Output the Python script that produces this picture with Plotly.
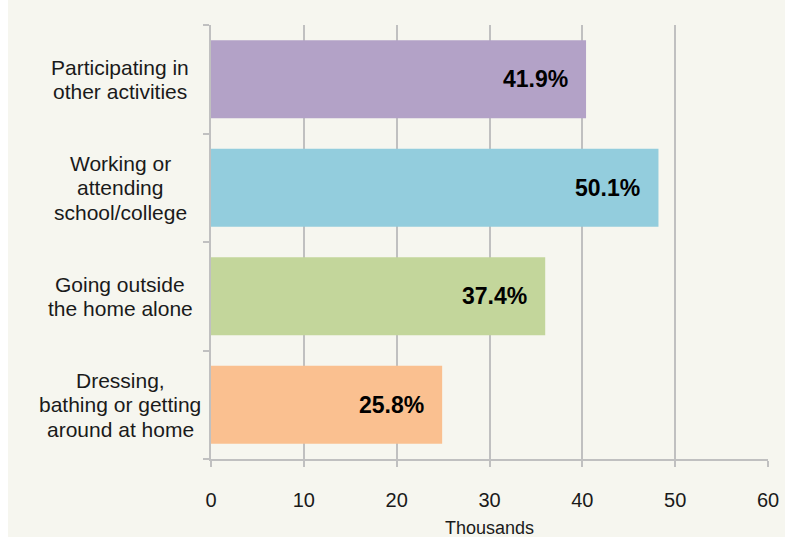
import plotly.graph_objects as go

# data (bottom to top, as drawn)
categories = [
    'Dressing,<br>bathing or getting<br>around at home',
    'Going outside<br>the home alone',
    'Working or<br>attending<br>school/college',
    'Participating in<br>other activities',
]
values = [24.9, 36.0, 48.2, 40.4]
pct_labels = ['25.8%', '37.4%', '50.1%', '41.9%']
colors = ['#fac090', '#c3d69b', '#93cddd', '#b3a2c7']
x_ticks = [0, 10, 20, 30, 40, 50, 60]

BG = '#f6f6ef'
GRID = '#c0c0c0'
FONT = 'Arial, Liberation Sans, sans-serif'
LINE_H = 24.5  # label line spacing, px

fig = go.Figure()
fig.add_trace(go.Bar(
    x=values,
    y=categories,
    orientation='h',
    marker=dict(color=colors, line=dict(width=0)),
    width=0.72,
    hoverinfo='skip',
))

# percent labels inside bar ends
for v, c, p in zip(values, categories, pct_labels):
    fig.add_annotation(x=v, y=c, text='<b>%s</b>' % p, showarrow=False,
                       xanchor='right', xshift=-16,
                       font=dict(family=FONT, size=23, color='#000000'))

# category labels, centred, one annotation per line for tighter spacing
for c in categories:
    lines = c.split('<br>')
    mid = (len(lines) - 1) / 2
    for i, line in enumerate(lines):
        fig.add_annotation(x=-0.163, xref='paper', y=c, text=line, showarrow=False,
                           xanchor='center', yshift=(mid - i) * LINE_H,
                           font=dict(family=FONT, size=21, color='#1a1a1a'))

fig.update_layout(
    width=793, height=560,
    margin=dict(l=203, r=33, t=25, b=101),
    paper_bgcolor=BG,
    plot_bgcolor=BG,
    showlegend=False,
    font=dict(family=FONT, size=20, color='#1a1a1a'),
)
fig.update_xaxes(
    range=[0, 60],
    tickvals=x_ticks,
    showgrid=True, gridcolor=GRID, gridwidth=2,
    showline=True, linecolor=GRID, linewidth=2,
    ticks='outside', ticklen=6, tickcolor=GRID, tickwidth=2,
    ticklabelstandoff=16,
    tickfont=dict(size=20),
    zeroline=False,
    title=dict(text='Thousands', font=dict(size=18), standoff=11),
)
fig.update_yaxes(
    showticklabels=False,
    tickson='boundaries',
    ticks='outside', ticklen=6, tickcolor=GRID, tickwidth=2,
    showline=True, linecolor=GRID, linewidth=2,
    showgrid=False,
)

# page sits flush with the top of the window, as in the reference crop
fig.write_html('out.html', post_script="document.body.style.marginTop='0px';")
